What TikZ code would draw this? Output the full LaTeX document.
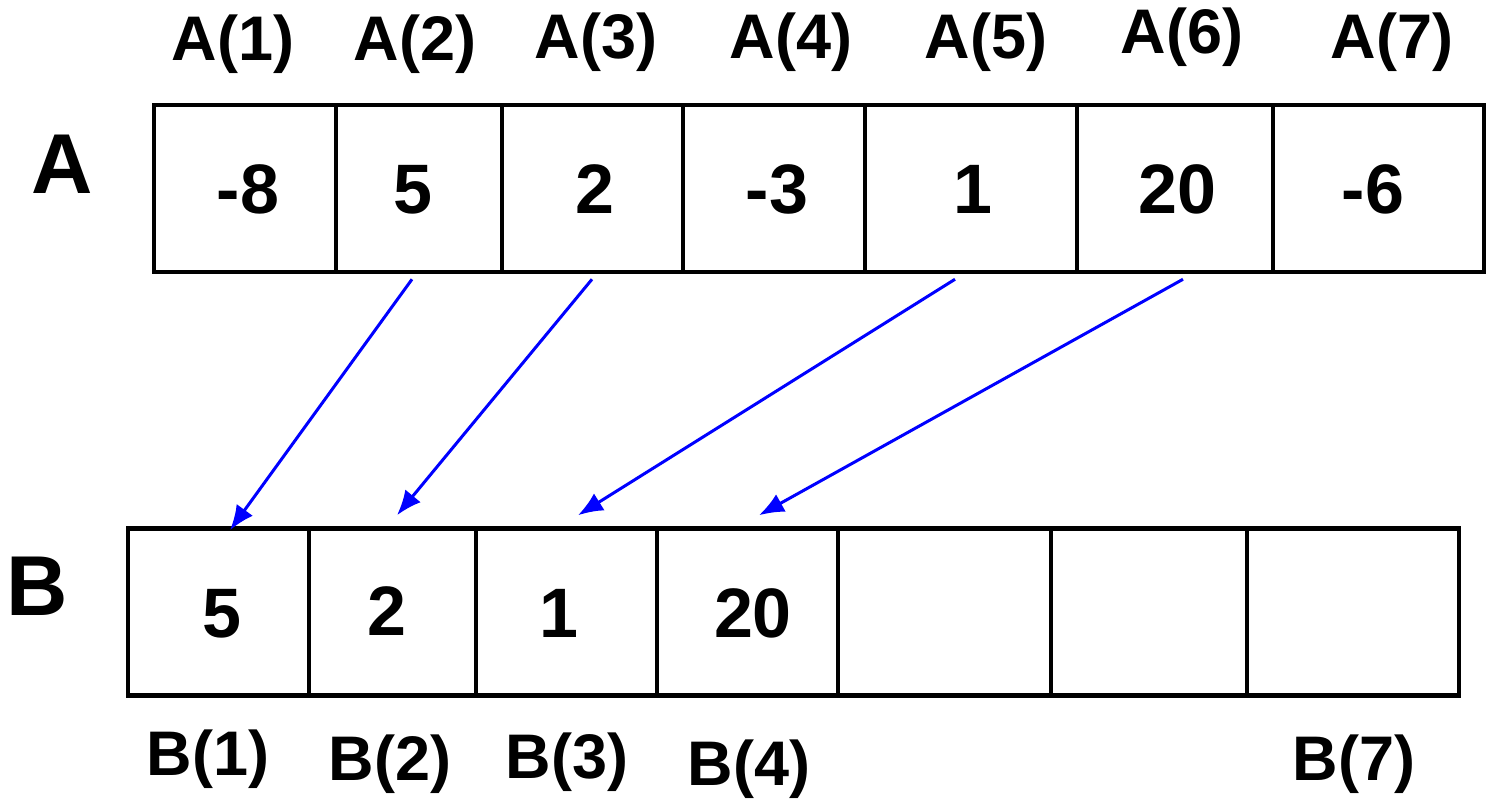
\documentclass[tikz,border=0pt]{standalone}
\usepackage{fontspec}
\setmainfont{Liberation Sans}
\usetikzlibrary{arrows.meta}
\definecolor{arrblue}{RGB}{0,0,255}
\tikzset{
  cell/.style={draw=black, line width=4.5pt, inner sep=0pt, minimum height=167pt},
  lbl/.style={anchor=base, inner sep=0pt, font=\bfseries\fontsize{63}{63}\selectfont},
  val/.style={anchor=base, inner sep=0pt, font=\bfseries\fontsize{70}{70}\selectfont},
  big/.style={anchor=base, inner sep=0pt, font=\bfseries\fontsize{85}{85}\selectfont},
  arr/.style={draw=arrblue, line width=3pt, -{Latex[length=25pt,width=20pt]}}
}
\begin{document}
\begin{tikzpicture}[x=1pt,y=-1pt]
\useasboundingbox (0,0) rectangle (1489,801);
% array A cells
\node[cell, minimum width=182pt] (a1) at (245,188.5) {};
\node[cell, minimum width=166pt] (a2) at (419,188.5) {};
\node[cell, minimum width=181pt] (a3) at (592.5,188.5) {};
\node[cell, minimum width=182pt] (a4) at (774,188.5) {};
\node[cell, minimum width=212pt] (a5) at (971,188.5) {};
\node[cell, minimum width=196pt] (a6) at (1175,188.5) {};
\node[cell, minimum width=211pt] (a7) at (1378.5,188.5) {};
% array B cells
\node[cell, minimum width=181pt] (b1) at (218.5,612) {};
\node[cell, minimum width=167pt] (b2) at (392.5,612) {};
\node[cell, minimum width=181pt] (b3) at (566.5,612) {};
\node[cell, minimum width=181pt] (b4) at (747.5,612) {};
\node[cell, minimum width=213pt] (b5) at (944.5,612) {};
\node[cell, minimum width=196pt] (b6) at (1149,612) {};
\node[cell, minimum width=212pt] (b7) at (1353,612) {};
% big letters
\node[big] (tA) at (62,193) {A};
\node[big] (tB) at (37.5,615) {B};
% A index labels
\node[lbl] (la1) at (233,60) {A(1)};
\node[lbl] (la2) at (415,60) {A(2)};
\node[lbl] (la3) at (596,58) {A(3)};
\node[lbl] (la4) at (791,58) {A(4)};
\node[lbl] (la5) at (986,58) {A(5)};
\node[lbl] (la6) at (1182,53) {A(6)};
\node[lbl] (la7) at (1392,58) {A(7)};
% A values
\node[val] (va1) at (248,213) {-8};
\node[val] (va2) at (413,213) {5};
\node[val] (va3) at (595,213) {2};
\node[val] (va4) at (777,213) {-3};
\node[val] (va5) at (973,213) {1};
\node[val] (va6) at (1177,213) {20};
\node[val] (va7) at (1373,213) {-6};
% B values
\node[val] (vb1) at (222,637) {5};
\node[val] (vb2) at (387,635) {2};
\node[val] (vb3) at (559,637) {1};
\node[val] (vb4) at (753,637) {20};
% B index labels
\node[lbl] (lb1) at (208,775) {B(1)};
\node[lbl] (lb2) at (390,780) {B(2)};
\node[lbl] (lb3) at (567,778) {B(3)};
\node[lbl] (lb4) at (749,785) {B(4)};
\node[lbl] (lb7) at (1354,780) {B(7)};
% arrows
\draw[arr] ([xshift=-7pt,yshift=-5pt]a2.south) -- ([xshift=11.5pt,yshift=-4pt]b1.north);
\draw[arr] ([xshift=-0.5pt,yshift=-5pt]a3.south) -- ([xshift=4.5pt,yshift=11pt]b2.north);
\draw[arr] ([xshift=-16pt,yshift=-5pt]a5.south) -- ([xshift=11.5pt,yshift=11pt]b3.north);
\draw[arr] ([xshift=8pt,yshift=-5pt]a6.south) -- ([xshift=11.5pt,yshift=11pt]b4.north);
\end{tikzpicture}
\end{document}
